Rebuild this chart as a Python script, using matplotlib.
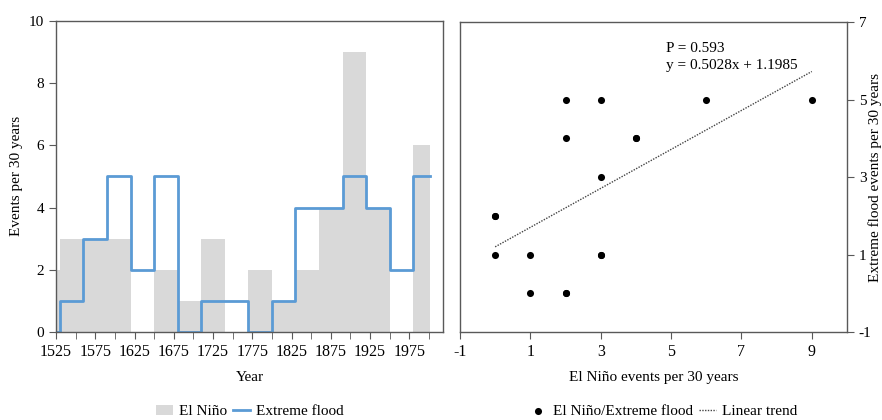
import matplotlib
matplotlib.use("Agg")
import matplotlib.pyplot as plt
import numpy as np

# 30-year periods (start year); last period is cut at 2002
period_start = [1500, 1530, 1560, 1590, 1620, 1650, 1680, 1710, 1740,
                1770, 1800, 1830, 1860, 1890, 1920, 1950, 1980]
period_end = 2002
elnino = [2, 3, 3, 3, 0, 2, 1, 3, 0, 2, 1, 2, 4, 9, 4, 0, 6]
flood = [0, 1, 3, 5, 2, 5, 0, 1, 1, 0, 1, 4, 4, 5, 4, 2, 5]

# linear fit as printed on the chart
slope = 0.5028
intercept = 1.1985
p_text = "P = 0.593"

plt.rcParams["font.family"] = ["Liberation Serif", "DejaVu Serif"]
plt.rcParams["font.size"] = 11
plt.rcParams["axes.unicode_minus"] = False

grey_spine = "#595959"
bar_col = "#d9d9d9"
blue = "#5b9bd5"

fig = plt.figure(figsize=(8.82, 4.2), dpi=100)
ax1 = fig.add_axes([0.0635, 0.2095, 0.4388, 0.741])
ax2 = fig.add_axes([0.5215, 0.2095, 0.4388, 0.738])

# --- left panel: bars + step line
edges = np.array(period_start + [period_end])
bars = ax1.bar(edges[:-1], elnino, width=np.diff(edges), align="edge",
               color=bar_col, linewidth=0, zorder=1)
line, = ax1.step(edges, flood + [flood[-1]], where="post", color=blue,
                 linewidth=2, zorder=2)
ax1.set_xlim(1525, 2018)
ax1.set_ylim(0, 10)
ax1.xaxis.set_major_locator(plt.FixedLocator(np.arange(1525, 2001, 50)))
ax1.xaxis.set_minor_locator(plt.FixedLocator(np.arange(1550, 2001, 50)))
ax1.set_yticks(np.arange(0, 11, 2))
ax1.set_xlabel("Year", labelpad=8)
ax1.set_ylabel("Events per 30 years")
ax1.tick_params(which="both", direction="out", length=5, color=grey_spine,
                top=False, right=False)
ax1.tick_params(axis="x", labelsize=11.5)

# --- right panel: scatter + trend
pts = ax2.scatter(elnino, flood, s=26, color="black", linewidths=0, zorder=3)
xs = np.array([min(elnino), max(elnino)])
trend, = ax2.plot(xs, slope * xs + intercept, linestyle=(0, (1, 1)),
                  color="#444444", linewidth=1)
ax2.text(4.85, 6.33, p_text, va="center", ha="left")
ax2.text(4.85, 5.88, f"y = {slope}x + {intercept}", va="center", ha="left")
ax2.set_xlim(-1, 10)
ax2.set_ylim(-1, 7)
ax2.set_xticks(np.arange(-1, 10, 2))
ax2.set_yticks(np.arange(-1, 8, 2))
ax2.yaxis.tick_right()
ax2.yaxis.set_label_position("right")
ax2.set_xlabel("El Niño events per 30 years", labelpad=8)
ax2.set_ylabel("Extreme flood events per 30 years")
ax2.yaxis.set_label_coords(1.055, 0.5)
ax2.tick_params(direction="out", length=5, color=grey_spine,
                top=False, left=False)
ax2.tick_params(axis="x", labelsize=11.5)

for ax in (ax1, ax2):
    for s in ax.spines.values():
        s.set_color(grey_spine)
        s.set_linewidth(1)

# legends under each panel
fig.legend([bars, line], ["El Niño", "Extreme flood"], loc="center",
           bbox_to_anchor=(0.283, 0.02), ncol=2, frameon=False,
           handlelength=1.1, handletextpad=0.4, columnspacing=0.4,
           borderaxespad=0)
fig.legend([pts, trend], ["El Niño/Extreme flood", "Linear trend"],
           loc="center", bbox_to_anchor=(0.752, 0.02), ncol=2,
           frameon=False, handlelength=1.1, handletextpad=0.4,
           columnspacing=0.4, borderaxespad=0)

fig.savefig("out.png", dpi=100)
